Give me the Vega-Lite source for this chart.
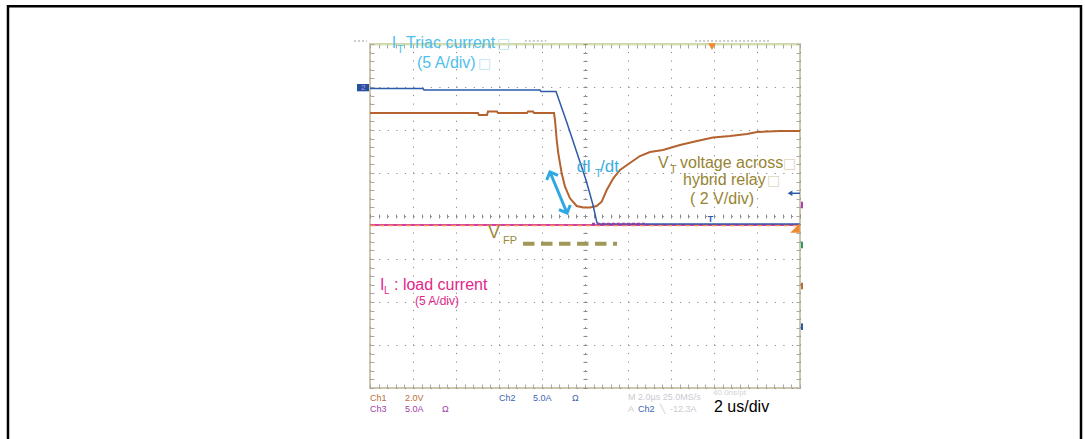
{
  "$schema": "https://vega.github.io/schema/vega-lite/v6.json",
  "width": 430,
  "height": 344,
  "autosize": {"type": "none"},
  "padding": {"left": 370, "top": 44, "right": 285, "bottom": 51},
  "background": "white",
  "config": {"view": {"stroke": "#CEC7AE", "strokeWidth": 2}},
  "resolve": {"axis": {"x": "independent", "y": "independent"}},
  "datasets": {
    "frame": [{"t": -8.419, "v": 8.877, "t2": 16.535, "v2": -1.674}],
    "blue": [
      {"t": 0, "v": 6.965}, {"t": 1.233, "v": 6.965}, {"t": 1.256, "v": 6.93}, {"t": 3.953, "v": 6.93},
      {"t": 3.977, "v": 6.895}, {"t": 4.326, "v": 6.895}, {"t": 4.558, "v": 6.233}, {"t": 4.791, "v": 5.535},
      {"t": 5.023, "v": 4.837}, {"t": 5.186, "v": 4.256}, {"t": 5.279, "v": 3.837}, {"t": 5.349, "v": 3.814},
      {"t": 10, "v": 3.814}
    ],
    "orange": [
      {"t": 0, "v": 6.395}, {"t": 2.512, "v": 6.395}, {"t": 2.535, "v": 6.349}, {"t": 2.721, "v": 6.349},
      {"t": 2.744, "v": 6.43}, {"t": 2.953, "v": 6.43}, {"t": 2.977, "v": 6.395}, {"t": 3.651, "v": 6.395},
      {"t": 3.674, "v": 6.43}, {"t": 3.791, "v": 6.43}, {"t": 3.814, "v": 6.395}, {"t": 4.279, "v": 6.395},
      {"t": 4.302, "v": 6.233}, {"t": 4.342, "v": 5.767}, {"t": 4.379, "v": 5.458}, {"t": 4.458, "v": 4.993},
      {"t": 4.535, "v": 4.681}, {"t": 4.651, "v": 4.412}, {"t": 4.807, "v": 4.233}, {"t": 4.96, "v": 4.198},
      {"t": 5.116, "v": 4.198}, {"t": 5.272, "v": 4.233}, {"t": 5.388, "v": 4.333}, {"t": 5.505, "v": 4.605},
      {"t": 5.658, "v": 4.877}, {"t": 5.814, "v": 5.07}, {"t": 5.977, "v": 5.186}, {"t": 6.279, "v": 5.395},
      {"t": 6.512, "v": 5.488}, {"t": 6.814, "v": 5.535}, {"t": 7.209, "v": 5.651}, {"t": 7.605, "v": 5.744},
      {"t": 7.977, "v": 5.826}, {"t": 8.372, "v": 5.86}, {"t": 8.767, "v": 5.907}, {"t": 9.0, "v": 5.953},
      {"t": 9.535, "v": 5.977}, {"t": 10, "v": 5.977}
    ],
    "pink": [{"t": 0, "v": 3.791}, {"t": 10, "v": 3.791}],
    "ref": [{"t": 0, "v": 3.779}, {"t": 10, "v": 3.779}],
    "purple": [{"t": 5.163, "v": 3.814}, {"t": 6.395, "v": 3.814}],
    "vfp": [{"t": 3.558, "v": 3.356}, {"t": 5.744, "v": 3.356}],
    "arrow": [{"t": 4.186, "v": 5.023, "t2": 4.581, "v2": 4.07}],
    "arrowTop": [{"t": 4.186, "v": 5.023}],
    "arrowBot": [{"t": 4.581, "v": 4.07}],
    "topMarks": [{"t": -0.37, "t2": -0.07, "v": 8.07}, {"t": 3.6, "t2": 4.1, "v": 8.07}, {"t": 7.56, "t2": 9.3, "v": 8.07}],
    "lbBig": [{"t": 0.505, "v": 7.9, "s": "I"}, {"t": 0.837, "v": 7.9, "s": "Triac current"}, {"t": 1.093, "v": 7.442, "s": "(5 A/div)"}],
    "lbSub": [{"t": 0.628, "v": 7.79, "s": "T"}],
    "lbBox": [{"t": 2.953, "v": 7.9, "s": "□"}, {"t": 2.512, "v": 7.442, "s": "□"}],
    "didt": [{"t": 4.807, "v": 5.03, "s": "dI"}, {"t": 5.349, "v": 5.03, "s": "/dt"}],
    "didtSub": [{"t": 5.233, "v": 4.907, "s": "T"}],
    "olive": [{"t": 6.698, "v": 5.109, "s": "V"}, {"t": 7.209, "v": 5.109, "s": "voltage across"}, {"t": 7.279, "v": 4.721, "s": "hybrid relay"}, {"t": 7.442, "v": 4.279, "s": "( 2 V/div)"}],
    "oliveSub": [{"t": 6.977, "v": 5.0, "s": "T"}],
    "oliveBox": [{"t": 9.605, "v": 5.109, "s": "□"}, {"t": 9.233, "v": 4.721, "s": "□"}],
    "vfpV": [{"t": 2.744, "v": 3.481, "s": "V"}],
    "vfpSub": [{"t": 3.093, "v": 3.349, "s": "FP"}],
    "pinkBig": [{"t": 0.233, "v": 2.279, "s": "I"}, {"t": 0.558, "v": 2.279, "s": ": load current"}],
    "pinkSub": [{"t": 0.326, "v": 2.186, "s": "L"}],
    "pinkSmall": [{"t": 1.047, "v": 1.93, "s": "(5 A/div)"}],
    "sc1": [{"t": 0, "v": -0.295, "s": "Ch1"}, {"t": 0.814, "v": -0.295, "s": "2.0V"}],
    "sc3": [{"t": 0, "v": -0.551, "s": "Ch3"}, {"t": 0.814, "v": -0.551, "s": "5.0A"}, {"t": 1.674, "v": -0.551, "s": "Ω"}],
    "sc2": [{"t": 3.0, "v": -0.295, "s": "Ch2"}, {"t": 3.791, "v": -0.295, "s": "5.0A"}, {"t": 4.698, "v": -0.295, "s": "Ω"}, {"t": 6.233, "v": -0.551, "s": "Ch2"}],
    "scGrey": [{"t": 6.0, "v": -0.27, "s": "M 2.0µs 25.0MS/s"}, {"t": 6.0, "v": -0.551, "s": "A"}, {"t": 6.744, "v": -0.551, "s": "╲"}, {"t": 6.977, "v": -0.551, "s": "-12.3A"}],
    "scGreySmall": [{"t": 7.977, "v": -0.17, "s": "40.0ns/pt"}],
    "usdiv": [{"t": 8.0, "v": -0.56, "s": "2 us/div"}],
    "sideTicks": [
      {"ch": "Ch3", "t": 10.047, "v": 4.333, "v2": 4.179},
      {"ch": "Ch4", "t": 10.047, "v": 3.403, "v2": 3.249},
      {"ch": "Ch1", "t": 10.047, "v": 2.449, "v2": 2.295},
      {"ch": "Ch2", "t": 10.047, "v": 1.504, "v2": 1.349}
    ],
    "trigTop": [{"t": 7.953, "v": 7.94}],
    "trigRight": [{"t": 9.884, "v": 3.721}],
    "blueArrow": [{"t": 9.79, "v": 4.528, "t2": 10.0}],
    "blueArrowHead": [{"t": 9.767, "v": 4.528}],
    "blueT": [{"t": 7.919, "v": 3.81, "s": "T"}],
    "gnd": [{"t": -0.302, "v": 7.07, "t2": -0.023, "v2": 6.9}],
    "gndTxt": [{"t": -0.16, "v": 6.985, "s": "2"}]
  },
  "encoding": {
    "x": {"field": "t", "type": "quantitative", "scale": {"domain": [0, 10], "nice": false, "zero": false}, "axis": null},
    "y": {"field": "v", "type": "quantitative", "scale": {"domain": [0, 8], "nice": false, "zero": false}, "axis": null}
  },
  "layer": [
    {
      "data": {"name": "frame"},
      "mark": {"type": "rect", "fill": null, "fillOpacity": 0, "stroke": "#000000", "strokeWidth": 2.5},
      "encoding": {
        "x": {"field": "t", "type": "quantitative", "scale": {"domain": [0, 10], "nice": false, "zero": false},
          "axis": {"orient": "top", "values": [0, 1, 2, 3, 4, 5, 6, 7, 8, 9, 10], "grid": true, "gridColor": "#8c8c8c", "gridDash": [1.2, 7.4], "gridWidth": 1, "ticks": false, "labels": false, "domain": true, "domainColor": "#D3E3B0", "domainWidth": 2, "title": null}},
        "y": {"field": "v", "type": "quantitative", "scale": {"domain": [0, 8], "nice": false, "zero": false},
          "axis": {"orient": "left", "values": [0, 1, 2, 3, 4, 5, 6, 7, 8], "grid": true, "gridColor": "#8c8c8c", "gridDash": [1.2, 7.4], "gridWidth": 1, "ticks": false, "labels": false, "domain": false, "title": null}},
        "x2": {"field": "t2"},
        "y2": {"field": "v2"}
      }
    },
    {
      "data": {"name": "topMarks"},
      "mark": {"type": "rule", "color": "#555555", "strokeWidth": 1, "strokeDash": [2, 2], "opacity": 0.6},
      "encoding": {"x2": {"field": "t2"}}
    },
    {
      "data": {"name": "pink"},
      "mark": {"type": "line", "color": "#D63FA0", "strokeWidth": 2},
      "encoding": {
        "x": {"field": "t", "type": "quantitative", "scale": {"domain": [0, 10], "nice": false, "zero": false},
          "axis": {"orient": "top", "offset": -4, "values": [0,0.2,0.4,0.6,0.8,1,1.2,1.4,1.6,1.8,2,2.2,2.4,2.6,2.8,3,3.2,3.4,3.6,3.8,4,4.2,4.4,4.6,4.8,5,5.2,5.4,5.6,5.8,6,6.2,6.4,6.6,6.8,7,7.2,7.4,7.6,7.8,8,8.2,8.4,8.6,8.8,9,9.2,9.4,9.6,9.8,10], "ticks": true, "tickSize": 4, "tickColor": "#a8a8a8", "tickWidth": 1, "labels": false, "domain": false, "grid": false, "title": null}},
        "y": {"field": "v", "type": "quantitative", "scale": {"domain": [0, 8], "nice": false, "zero": false},
          "axis": {"orient": "right", "offset": -4, "values": [0,0.2,0.4,0.6,0.8,1,1.2,1.4,1.6,1.8,2,2.2,2.4,2.6,2.8,3,3.2,3.4,3.6,3.8,4,4.2,4.4,4.6,4.8,5,5.2,5.4,5.6,5.8,6,6.2,6.4,6.6,6.8,7,7.2,7.4,7.6,7.8,8], "ticks": true, "tickSize": 4, "tickColor": "#a8a8a8", "tickWidth": 1, "labels": false, "domain": false, "grid": false, "title": null}}
      }
    },
    {
      "data": {"name": "ref"},
      "mark": {"type": "line", "color": "#F0905A", "strokeWidth": 1.5, "strokeDash": [5, 4]},
      "encoding": {}
    },
    {
      "data": {"name": "orange"},
      "mark": {"type": "line", "color": "#B4622E", "strokeWidth": 2},
      "encoding": {
        "x": {"field": "t", "type": "quantitative", "scale": {"domain": [0, 10], "nice": false, "zero": false},
          "axis": {"orient": "bottom", "offset": -174, "values": [0,0.2,0.4,0.6,0.8,1,1.2,1.4,1.6,1.8,2,2.2,2.4,2.6,2.8,3,3.2,3.4,3.6,3.8,4,4.2,4.4,4.6,4.8,5,5.2,5.4,5.6,5.8,6,6.2,6.4,6.6,6.8,7,7.2,7.4,7.6,7.8,8,8.2,8.4,8.6,8.8,9,9.2,9.4,9.6,9.8,10], "ticks": true, "tickSize": 4, "tickColor": "#8c8c8c", "tickWidth": 1, "labels": false, "domain": false, "grid": false, "title": null}},
        "y": {"field": "v", "type": "quantitative", "scale": {"domain": [0, 8], "nice": false, "zero": false},
          "axis": {"orient": "left", "offset": -217, "values": [0,0.2,0.4,0.6,0.8,1,1.2,1.4,1.6,1.8,2,2.2,2.4,2.6,2.8,3,3.2,3.4,3.6,3.8,4,4.2,4.4,4.6,4.8,5,5.2,5.4,5.6,5.8,6,6.2,6.4,6.6,6.8,7,7.2,7.4,7.6,7.8,8], "ticks": true, "tickSize": 4, "tickColor": "#8c8c8c", "tickWidth": 1, "labels": false, "domain": false, "grid": false, "title": null}}
      }
    },
    {
      "data": {"name": "blue"},
      "mark": {"type": "line", "color": "#2D5BA8", "strokeWidth": 1.5},
      "encoding": {
        "x": {"field": "t", "type": "quantitative", "scale": {"domain": [0, 10], "nice": false, "zero": false},
          "axis": {"orient": "bottom", "offset": -4, "values": [0,0.2,0.4,0.6,0.8,1,1.2,1.4,1.6,1.8,2,2.2,2.4,2.6,2.8,3,3.2,3.4,3.6,3.8,4,4.2,4.4,4.6,4.8,5,5.2,5.4,5.6,5.8,6,6.2,6.4,6.6,6.8,7,7.2,7.4,7.6,7.8,8,8.2,8.4,8.6,8.8,9,9.2,9.4,9.6,9.8,10], "ticks": true, "tickSize": 4, "tickColor": "#a8a8a8", "tickWidth": 1, "labels": false, "domain": false, "grid": false, "title": null}},
        "y": {"field": "v", "type": "quantitative", "scale": {"domain": [0, 8], "nice": false, "zero": false},
          "axis": {"orient": "left", "offset": -4, "values": [0,0.2,0.4,0.6,0.8,1,1.2,1.4,1.6,1.8,2,2.2,2.4,2.6,2.8,3,3.2,3.4,3.6,3.8,4,4.2,4.4,4.6,4.8,5,5.2,5.4,5.6,5.8,6,6.2,6.4,6.6,6.8,7,7.2,7.4,7.6,7.8,8], "ticks": true, "tickSize": 4, "tickColor": "#a8a8a8", "tickWidth": 1, "labels": false, "domain": false, "grid": false, "title": null}}
      }
    },
    {
      "data": {"name": "purple"},
      "mark": {"type": "line", "color": "#9A3DA8", "strokeWidth": 2.5, "strokeDash": [3, 2]},
      "encoding": {}
    },
    {
      "data": {"name": "vfp"},
      "mark": {"type": "line", "color": "#A09858", "strokeWidth": 4, "strokeDash": [11.5, 6.5]},
      "encoding": {}
    },
    {
      "data": {"name": "arrow"},
      "mark": {"type": "rule", "color": "#2DA8E2", "strokeWidth": 3},
      "encoding": {"x2": {"field": "t2"}, "y2": {"field": "v2"}}
    },
    {
      "data": {"name": "arrowTop"},
      "mark": {"type": "point", "shape": "M-1,1L0,0L1,1", "filled": false, "color": "#2DA8E2", "strokeWidth": 3, "size": 150, "angle": 337.5, "opacity": 1},
      "encoding": {}
    },
    {
      "data": {"name": "arrowBot"},
      "mark": {"type": "point", "shape": "M-1,-1L0,0L1,-1", "filled": false, "color": "#2DA8E2", "strokeWidth": 3, "size": 150, "angle": 337.5, "opacity": 1},
      "encoding": {}
    },
    {
      "data": {"name": "lbBig"},
      "mark": {"type": "text", "align": "left", "baseline": "alphabetic", "font": "Liberation Sans", "fontSize": 16, "color": "#4FC0EC"},
      "encoding": {"text": {"field": "s"}}
    },
    {
      "data": {"name": "lbSub"},
      "mark": {"type": "text", "align": "left", "baseline": "alphabetic", "font": "Liberation Sans", "fontSize": 11, "color": "#4FC0EC"},
      "encoding": {"text": {"field": "s"}}
    },
    {
      "data": {"name": "lbBox"},
      "mark": {"type": "text", "align": "left", "baseline": "alphabetic", "font": "DejaVu Sans", "fontSize": 14, "color": "#BDE4F6"},
      "encoding": {"text": {"field": "s"}}
    },
    {
      "data": {"name": "didt"},
      "mark": {"type": "text", "align": "left", "baseline": "alphabetic", "font": "Liberation Sans", "fontSize": 17, "color": "#3AAEE0"},
      "encoding": {"text": {"field": "s"}}
    },
    {
      "data": {"name": "didtSub"},
      "mark": {"type": "text", "align": "left", "baseline": "alphabetic", "font": "Liberation Sans", "fontSize": 11, "color": "#3AAEE0"},
      "encoding": {"text": {"field": "s"}}
    },
    {
      "data": {"name": "olive"},
      "mark": {"type": "text", "align": "left", "baseline": "alphabetic", "font": "Liberation Sans", "fontSize": 16, "color": "#978433"},
      "encoding": {"text": {"field": "s"}}
    },
    {
      "data": {"name": "oliveSub"},
      "mark": {"type": "text", "align": "left", "baseline": "alphabetic", "font": "Liberation Sans", "fontSize": 11, "color": "#978433"},
      "encoding": {"text": {"field": "s"}}
    },
    {
      "data": {"name": "oliveBox"},
      "mark": {"type": "text", "align": "left", "baseline": "alphabetic", "font": "DejaVu Sans", "fontSize": 14, "color": "#DDD5BC"},
      "encoding": {"text": {"field": "s"}}
    },
    {
      "data": {"name": "vfpV"},
      "mark": {"type": "text", "align": "left", "baseline": "alphabetic", "font": "Liberation Sans", "fontSize": 18, "color": "#9C8A3A"},
      "encoding": {"text": {"field": "s"}}
    },
    {
      "data": {"name": "vfpSub"},
      "mark": {"type": "text", "align": "left", "baseline": "alphabetic", "font": "Liberation Sans", "fontSize": 11, "color": "#9C8A3A"},
      "encoding": {"text": {"field": "s"}}
    },
    {
      "data": {"name": "pinkBig"},
      "mark": {"type": "text", "align": "left", "baseline": "alphabetic", "font": "Liberation Sans", "fontSize": 16, "color": "#E0288A"},
      "encoding": {"text": {"field": "s"}}
    },
    {
      "data": {"name": "pinkSub"},
      "mark": {"type": "text", "align": "left", "baseline": "alphabetic", "font": "Liberation Sans", "fontSize": 10, "color": "#E0288A"},
      "encoding": {"text": {"field": "s"}}
    },
    {
      "data": {"name": "pinkSmall"},
      "mark": {"type": "text", "align": "left", "baseline": "alphabetic", "font": "Liberation Sans", "fontSize": 12, "color": "#E0288A"},
      "encoding": {"text": {"field": "s"}}
    },
    {
      "data": {"name": "sc1"},
      "mark": {"type": "text", "align": "left", "baseline": "alphabetic", "font": "Liberation Sans Narrow, Liberation Sans", "fontSize": 9, "color": "#B96E3E"},
      "encoding": {"text": {"field": "s"}}
    },
    {
      "data": {"name": "sc3"},
      "mark": {"type": "text", "align": "left", "baseline": "alphabetic", "font": "Liberation Sans Narrow, Liberation Sans", "fontSize": 9, "color": "#A040A8"},
      "encoding": {"text": {"field": "s"}}
    },
    {
      "data": {"name": "sc2"},
      "mark": {"type": "text", "align": "left", "baseline": "alphabetic", "font": "Liberation Sans Narrow, Liberation Sans", "fontSize": 9, "color": "#3C64B4"},
      "encoding": {"text": {"field": "s"}}
    },
    {
      "data": {"name": "scGrey"},
      "mark": {"type": "text", "align": "left", "baseline": "alphabetic", "font": "Liberation Sans Narrow, Liberation Sans", "fontSize": 9, "color": "#CACAD2"},
      "encoding": {"text": {"field": "s"}}
    },
    {
      "data": {"name": "scGreySmall"},
      "mark": {"type": "text", "align": "left", "baseline": "alphabetic", "font": "Liberation Sans Narrow, Liberation Sans", "fontSize": 8, "color": "#D2D2DA"},
      "encoding": {"text": {"field": "s"}}
    },
    {
      "data": {"name": "usdiv"},
      "mark": {"type": "text", "align": "left", "baseline": "alphabetic", "font": "Liberation Sans", "fontSize": 16, "color": "#000000"},
      "encoding": {"text": {"field": "s"}}
    },
    {
      "data": {"name": "sideTicks"},
      "mark": {"type": "rule", "strokeWidth": 2},
      "encoding": {
        "y2": {"field": "v2"},
        "color": {"field": "ch", "type": "nominal", "scale": {"domain": ["Ch1", "Ch2", "Ch3", "Ch4"], "range": ["#B96E3E", "#2D5BA8", "#B040B0", "#2E9A5A"]}, "legend": null}
      }
    },
    {
      "data": {"name": "trigTop"},
      "mark": {"type": "point", "shape": "triangle-down", "filled": true, "color": "#F08A30", "size": 60, "opacity": 1},
      "encoding": {}
    },
    {
      "data": {"name": "trigRight"},
      "mark": {"type": "point", "shape": "M1,-1L1,1L-1,1Z", "filled": true, "color": "#F08A30", "size": 90, "opacity": 1},
      "encoding": {}
    },
    {
      "data": {"name": "blueArrow"},
      "mark": {"type": "rule", "color": "#2D5BA8", "strokeWidth": 1.5},
      "encoding": {"x2": {"field": "t2"}}
    },
    {
      "data": {"name": "blueArrowHead"},
      "mark": {"type": "point", "shape": "triangle-left", "filled": true, "color": "#2D5BA8", "size": 30, "opacity": 1},
      "encoding": {}
    },
    {
      "data": {"name": "blueT"},
      "mark": {"type": "text", "align": "center", "baseline": "bottom", "font": "Liberation Sans", "fontSize": 9, "fontWeight": "bold", "color": "#2D5BA8"},
      "encoding": {"text": {"field": "s"}}
    },
    {
      "data": {"name": "gnd"},
      "mark": {"type": "rect", "color": "#2450A0"},
      "encoding": {"x2": {"field": "t2"}, "y2": {"field": "v2"}}
    },
    {
      "data": {"name": "gndTxt"},
      "mark": {"type": "text", "align": "center", "baseline": "middle", "font": "Liberation Sans", "fontSize": 8, "color": "#C890D8"},
      "encoding": {"text": {"field": "s"}}
    }
  ]
}
